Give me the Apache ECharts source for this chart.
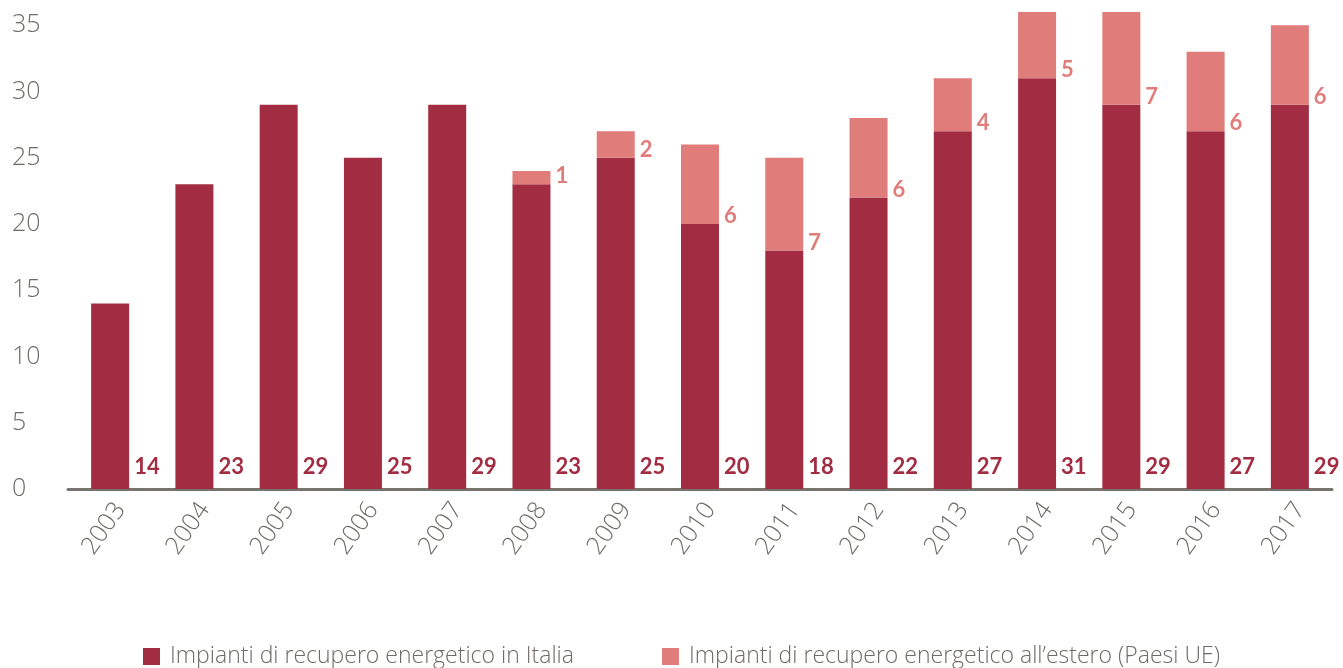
<!DOCTYPE html>
<html><head><meta charset="utf-8">
<script src="https://cdn.jsdelivr.net/npm/echarts@6/dist/echarts.min.js"></script>
<style>html,body{margin:0;padding:0;background:#fff}#c{width:1343px;height:668px}</style>
</head><body><div id="c"></div>
<script>
const years = ['2003','2004','2005','2006','2007','2008','2009','2010','2011','2012','2013','2014','2015','2016','2017'];
const italia = [14,23,29,25,29,23,25,20,18,22,27,31,29,27,29];
const estero = [0,0,0,0,0,1,2,6,7,6,4,5,7,6,6];
const seriesNames = ['Impianti di recupero energetico in Italia', 'Impianti di recupero energetico all\u2019estero (Paesi UE)'];
const yTicks = [0,5,10,15,20,25,30,35];

const dark = '#a22d42', light = '#e07c7a', grey = '#6f6b67';
const thin = 'Open Sans';
const chart = echarts.init(document.getElementById('c'));
chart.setOption({
  animation: false,
  textStyle: {fontFamily: 'Lato'},
  grid: {left: 68, right: 11, top: 12, bottom: 179},
  legend: {
    bottom: -5, left: 138, itemWidth: 17, itemHeight: 17, itemGap: 88,
    icon: 'rect',
    textStyle: {fontSize: 23, color: grey, fontFamily: thin, fontWeight: 300, padding: [0, 0, 0, 5]},
    data: seriesNames
  },
  xAxis: {
    type: 'category', data: years,
    axisLine: {lineStyle: {color: '#77736f', width: 3}},
    axisTick: {show: false},
    axisLabel: {rotate: 55, fontSize: 25, color: grey, margin: 9, verticalAlign: 'top',
      fontFamily: thin, fontWeight: 300}
  },
  yAxis: {
    type: 'value', min: 0, max: 36, interval: 5,
    splitLine: {show: false},
    axisLine: {show: false}, axisTick: {show: false},
    axisLabel: {fontSize: 25, color: grey, showMaxLabel: false, align: 'left', margin: 56,
      fontFamily: thin, fontWeight: 300,
      formatter: v => yTicks.includes(v) ? String(v) : ''}
  },
  series: [
    {
      name: seriesNames[0], type: 'bar', stack: 't', data: italia, barWidth: 38,
      itemStyle: {color: dark},
      label: {show: true, position: ['100%', '100%'], align: 'left', verticalAlign: 'bottom',
        offset: [5, -11], fontSize: 22, fontWeight: 'bold', color: dark,
        formatter: p => p.value ? p.value : ''}
    },
    {
      name: seriesNames[1], type: 'bar', stack: 't', data: estero, barWidth: 38,
      itemStyle: {color: light},
      label: {show: true, position: ['100%', '100%'], align: 'left', verticalAlign: 'bottom',
        offset: [5, 3], fontSize: 22, fontWeight: 'bold', color: light,
        formatter: p => p.value ? p.value : ''}
    }
  ]
});
</script></body></html>
